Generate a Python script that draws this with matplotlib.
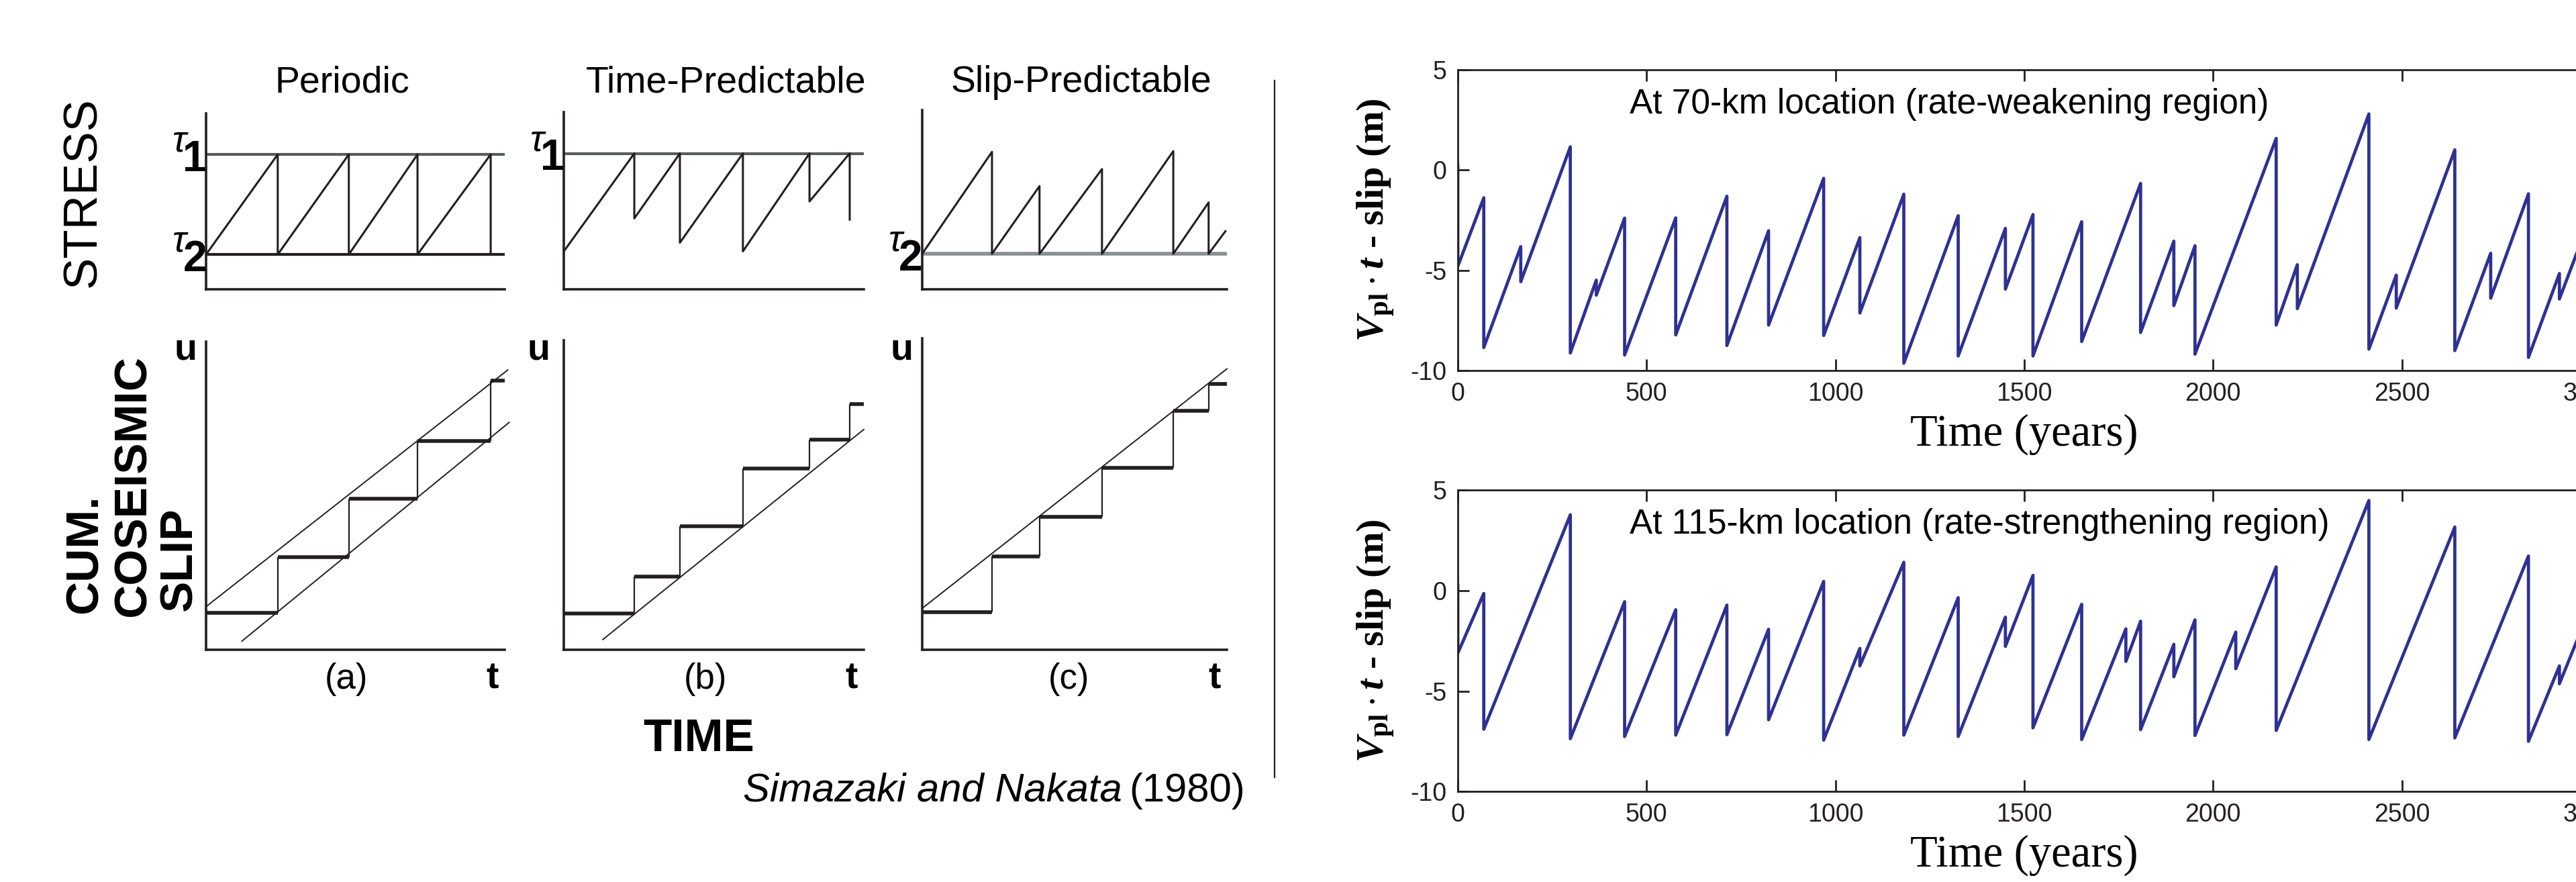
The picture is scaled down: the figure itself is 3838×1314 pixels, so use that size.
import matplotlib
matplotlib.use("Agg")
import matplotlib.pyplot as plt
from matplotlib.lines import Line2D

plt.rcParams["font.family"] = ["Liberation Sans", "DejaVu Sans"]
plt.rcParams["axes.unicode_minus"] = False
plt.rcParams["mathtext.fontset"] = "custom"
plt.rcParams["mathtext.rm"] = "Liberation Serif:bold"
plt.rcParams["mathtext.it"] = "Liberation Serif:italic:bold"
plt.rcParams["mathtext.bf"] = "Liberation Serif:bold"

# ---- left: Shimazaki & Nakata recurrence models (normalised units) ----
tau1 = 0.767
tau2 = 0.198

periodic_events = [0.24, 0.478, 0.708, 0.953]
periodic_slip = [0.12, 0.30, 0.49, 0.678, 0.874]
periodic_upper = ([0.0, 1.01], [0.14, 0.908])
periodic_lower = ([0.12, 1.015], [0.028, 0.738])

tp_start = 0.214
tp_events = [0.235, 0.387, 0.597, 0.819, 0.953]
tp_after = [0.40, 0.263, 0.214, 0.496, 0.393]
tp_slip = [0.118, 0.237, 0.40, 0.586, 0.678, 0.795]
tp_line = ([0.13, 1.0], [0.033, 0.712])

sp_events = [0.229, 0.385, 0.590, 0.824, 0.940]
sp_before = [0.767, 0.576, 0.671, 0.771, 0.485]
sp_end = (0.995, 0.324)
sp_slip = [0.12, 0.30, 0.427, 0.584, 0.767, 0.854]
sp_line = ([0.0, 1.0], [0.133, 0.902])

# ---- right: Vpl*t - slip time series (years, m) ----
t_70 = [0, 68.75, 166.7, 297.9, 366.7, 441.7, 577, 712.5, 822.9, 968.75,
        1064.6, 1181, 1325, 1450, 1523, 1652, 1808, 1896, 1952, 2167,
        2223, 2412.5, 2485, 2640, 2735, 2835, 2917]
peak_70 = [0.25, -1.39, -3.82, 1.15, -5.49, -2.40, -2.39, -1.31, -3.03, -0.42,
           -3.37, -1.21, -2.28, -2.91, -2.22, -2.58, -0.67, -3.55, -3.78, 1.57,
           -4.72, 2.79, -5.24, 1.0, -4.15, -1.19, -5.16]
trough_70 = [-4.8, -8.85, -5.57, -9.12, -6.24, -9.22, -8.22, -8.75, -7.73, -8.25,
             -7.13, -9.63, -9.27, -5.94, -9.27, -8.55, -8.10, -6.76, -9.18, -7.73,
             -6.91, -8.93, -6.88, -9.0, -6.39, -9.34, -6.43]
end_70 = (3000, -2.3)

t_115 = [0, 68.75, 298, 441.7, 577, 712.5, 822.9, 968.75, 1064.6, 1181,
         1325, 1450, 1523, 1652, 1769, 1808, 1896, 1952, 2060, 2167,
         2412.5, 2640, 2835, 2917]
peak_115 = [0.25, -0.15, 3.76, -0.56, -0.96, -0.73, -1.93, 0.45, -2.88, 1.40,
            -0.36, -1.33, 0.75, -0.69, -1.91, -1.53, -2.68, -1.46, -2.07, 1.17,
            4.47, 3.15, 1.71, -3.75]
trough_115 = [-3.12, -6.90, -7.37, -7.26, -7.19, -7.17, -6.43, -7.44, -3.75, -7.19,
              -7.26, -2.78, -6.83, -7.41, -3.53, -6.92, -4.29, -7.21, -3.89, -6.96,
              -7.41, -7.33, -7.50, -4.64]
end_115 = (3000, -0.8)

year_ticks = [0, 500, 1000, 1500, 2000, 2500, 3000]
slip_ticks = [-10, -5, 0, 5]

INK = "#231f20"
GREY = "#565b5f"
BLUE = "#2e3192"

W, H = 3838, 1314
fig = plt.figure(figsize=(W / 100, H / 100), dpi=100)


def px_axes(left, top, right, bottom):
    return fig.add_axes([left / W, 1 - bottom / H, (right - left) / W, (bottom - top) / H])


def fig_text(x, y, s, **kw):
    kw.setdefault("ha", "center")
    kw.setdefault("va", "center")
    return fig.text(x / W, 1 - y / H, s, **kw)


def bare(ax):
    ax.set_xlim(0, 1)
    ax.set_ylim(0, 1)
    ax.spines["top"].set_visible(False)
    ax.spines["right"].set_visible(False)
    for s in ["left", "bottom"]:
        ax.spines[s].set_linewidth(2.6)
        ax.spines[s].set_color(INK)
    ax.set_xticks([])
    ax.set_yticks([])
    ax.patch.set_alpha(0)


def tau_label(ax, level, digit):
    ax.text(-0.088, level + 0.07, "τ", fontsize=40, style="italic",
            ha="center", va="center", clip_on=False)
    ax.text(-0.038, level - 0.03, digit, fontsize=46, fontweight="bold",
            ha="center", va="center", clip_on=False)


def sawtooth(ax, x0, y0, events, highs, lows, end=None):
    xs, ys = [x0], [y0]
    for t, hi, lo in zip(events, highs, lows):
        xs += [t, t]
        ys += [hi, lo]
    if end is not None:
        xs.append(end[0])
        ys.append(end[1])
    ax.plot(xs, ys, color=INK, lw=2.2, clip_on=False)


def steps(ax, events, levels):
    starts = [0] + events
    ends = events + [1.0]
    ax.hlines(levels, starts, ends, color=INK, lw=4)
    ax.vlines(events, levels[:-1], levels[1:], color=INK, lw=1.6)


stress_boxes = [(307, 169, 752, 431), (840, 167, 1287, 431), (1374, 164, 1828, 431)]
slip_boxes = [(307, 509, 752, 968), (840, 507, 1287, 968), (1374, 504, 1828, 968)]
sa = [px_axes(*b) for b in stress_boxes]
sl = [px_axes(*b) for b in slip_boxes]
for ax in sa + sl:
    bare(ax)

# periodic
sa[0].axhline(tau1, color=GREY, lw=3)
sa[0].axhline(tau2, color=INK, lw=3)
sawtooth(sa[0], 0, tau2, periodic_events, [tau1] * 4, [tau2] * 4)
tau_label(sa[0], tau1, "1")
tau_label(sa[0], tau2, "2")
steps(sl[0], periodic_events, periodic_slip)
sl[0].plot(*periodic_upper, color=INK, lw=1.4, clip_on=False)
sl[0].plot(*periodic_lower, color=INK, lw=1.4, clip_on=False)

# time-predictable
sa[1].axhline(tau1, color=GREY, lw=3)
sawtooth(sa[1], 0, tp_start, tp_events, [tau1] * 5, tp_after)
tau_label(sa[1], tau1, "1")
steps(sl[1], tp_events, tp_slip)
sl[1].plot(*tp_line, color=INK, lw=1.4, clip_on=False)

# slip-predictable
sa[2].axhline(tau2, color="#8a8f93", lw=4)
sawtooth(sa[2], 0, tau2, sp_events, sp_before, [tau2] * 5, sp_end)
tau_label(sa[2], tau2, "2")
steps(sl[2], sp_events, sp_slip)
sl[2].plot(*sp_line, color=INK, lw=1.4, clip_on=False)

for x, title in zip([510, 1082, 1611], ["Periodic", "Time-Predictable", "Slip-Predictable"]):
    fig_text(x, 123, title, fontsize=40)
for x, tag in zip([516, 1051, 1592], ["(a)", "(b)", "(c)"]):
    fig_text(x, 1012, tag, fontsize=38)
for x in [734, 1269, 1810]:
    fig_text(x, 1012, "t", fontsize=40, fontweight="bold")
for x in [276, 802, 1343]:
    fig_text(x, 522, "u", fontsize=40, fontweight="bold")

fig_text(124, 286, "STRESS", fontsize=51, rotation=90)
fig_text(127, 914, "CUM.", fontsize=50, rotation=90, va="bottom", fontweight="bold")
fig_text(199, 919, "COSEISMIC", fontsize=50, rotation=90, va="bottom", fontweight="bold")
fig_text(267, 910, "SLIP", fontsize=50, rotation=90, va="bottom", fontweight="bold")
fig_text(1041, 1101, "TIME", fontsize=50, fontweight="bold")
fig_text(1672, 1178, "Simazaki and Nakata", fontsize=43, style="italic", ha="right")
fig_text(1682, 1178, "(1980)", fontsize=43, ha="left")

fig.add_artist(Line2D([1899 / W, 1899 / W], [1 - 120 / H, 1 - 1158 / H], color=INK, lw=1.6))

# ---- right panels ----
right_boxes = [(2172, 103.6, 3860, 552.2), (2172, 729.7, 3860, 1179.4)]
series = [(t_70, peak_70, trough_70, end_70, "At 70-km location (rate-weakening region)"),
          (t_115, peak_115, trough_115, end_115, "At 115-km location (rate-strengthening region)")]
ylab = r"$V_{\rm pl}\cdot t$ - slip (m)"

for box, (tt, pk, tr, end, note) in zip(right_boxes, series):
    ax = px_axes(*box)
    xs, ys = [], []
    for t, p, q in zip(tt, pk, tr):
        xs += [t, t]
        ys += [p, q]
    xs.append(end[0])
    ys.append(end[1])
    ax.plot(xs, ys, color=BLUE, lw=3.4)
    ax.set_xlim(0, 3000)
    ax.set_ylim(-10, 5)
    ax.set_xticks(year_ticks)
    ax.set_yticks(slip_ticks)
    ax.tick_params(direction="in", length=12, width=2, labelsize=27, top=True, right=True,
                   pad=12, colors=INK)
    for s in ax.spines.values():
        s.set_linewidth(2)
        s.set_color(INK)
    cy = (box[1] + box[3]) / 2
    fig_text(2050, cy, ylab, fontsize=42, rotation=90, family="Liberation Serif",
             fontweight="bold")
    fig_text(3016, box[3] + 95, "Time (years)", fontsize=48, family="Liberation Serif")
    fig_text(2428, box[1] + 52, note, fontsize=37, ha="left")

fig.savefig("out.png", dpi=100)
